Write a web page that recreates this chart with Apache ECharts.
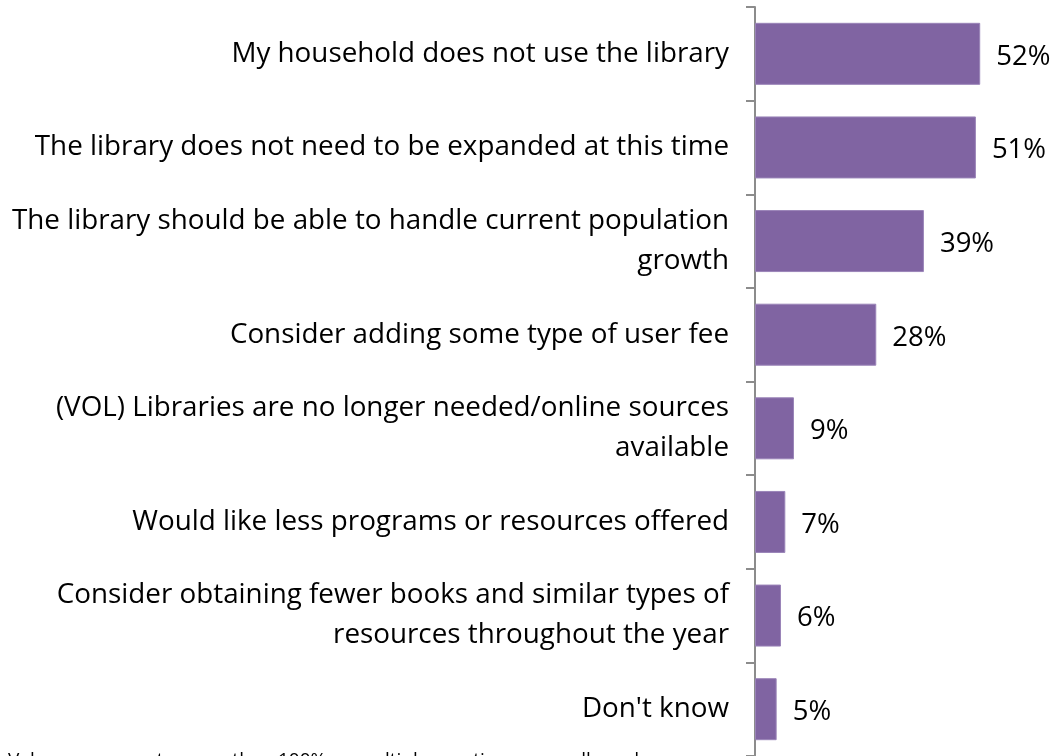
<!DOCTYPE html>
<html>
<head>
<meta charset="utf-8">
<script src="https://cdn.jsdelivr.net/npm/echarts@6/dist/echarts.min.js"></script>
<style>
  html, body { margin: 0; padding: 0; background: #fff; }
  #chart { width: 1056px; height: 756px; }
</style>
</head>
<body>
<div id="chart"></div>
<script>
const categories = [
  'My household does not use the library',
  'The library does not need to be expanded at this time',
  'The library should be able to handle current population\ngrowth',
  'Consider adding some type of user fee',
  '(VOL) Libraries are no longer needed/online sources\navailable',
  'Would like less programs or resources offered',
  'Consider obtaining fewer books and similar types of\nresources throughout the year',
  "Don't know"
]
const values = [52, 51, 39, 28, 9, 7, 6, 5]
const footnote = 'Values may sum to more than 100% as multiple mentions were allowed.'

const fontFamily = '"Open Sans", Lato, sans-serif'

const chart = echarts.init(document.getElementById('chart'))
chart.setOption({
  animation: false,
  grid: {
    left: 755,
    top: 7,
    right: 0,
    height: 752
  },
  xAxis: {
    type: 'value',
    min: 0,
    max: 69.5,
    show: false
  },
  yAxis: {
    type: 'category',
    inverse: true,
    data: categories,
    axisLine: { show: true, lineStyle: { color: '#8c8c8c', width: 2 } },
    axisTick: { show: true, length: 9, lineStyle: { color: '#8c8c8c', width: 2 } },
    axisLabel: {
      margin: 26,
      color: '#000',
      fontSize: 27.8,
      lineHeight: 40,
      fontFamily: fontFamily,
      align: 'right'
    }
  },
  series: [
    {
      type: 'bar',
      data: values,
      barWidth: 62,
      itemStyle: { color: '#8064a2', borderColor: '#9a84b8', borderWidth: 1 },
      label: {
        show: true,
        position: 'right',
        distance: 16,
        offset: [0, 3],
        color: '#000',
        fontSize: 27.5,
        fontFamily: fontFamily,
        formatter: '{c}%'
      }
    }
  ],
  graphic: [
    {
      type: 'text',
      left: 8,
      top: 751,
      style: { text: footnote, fontSize: 19, fontFamily: fontFamily, fill: '#000' }
    }
  ]
})
</script>
</body>
</html>
